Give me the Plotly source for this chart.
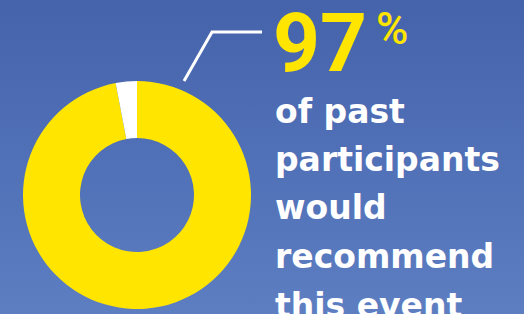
import plotly.graph_objects as go

W, H = 524, 314

slice_labels = ["Would recommend", "Would not"]
slice_values = [97, 3]
slice_colors = ["#FFE500", "#FFFFFF"]

headline = "97"
headline_suffix = "%"
text_lines = ["of past", "participants", "would", "recommend", "this event"]

fig = go.Figure()

# background gradient
fig.add_trace(go.Scatter(
    x=[0, 1, 1, 0, 0], y=[0, 0, 1, 1, 0], mode="lines", fill="toself",
    line=dict(width=0), hoverinfo="skip", showlegend=False,
    fillgradient=dict(type="vertical",
                      colorscale=[[0, "#5E7EC2"], [0.5, "#5070B7"], [1, "#4563AA"]]),
    xaxis="x", yaxis="y",
))

cx, cy, r = 137, 195, 114
fig.add_trace(go.Pie(
    labels=slice_labels, values=slice_values, hole=0.5, sort=False,
    direction="clockwise", rotation=0,
    marker=dict(colors=slice_colors, line=dict(width=0)),
    textinfo="none", hoverinfo="label+percent", showlegend=False,
    domain=dict(x=[(cx - r) / W, (cx + r) / W], y=[(H - cy - r) / H, (H - cy + r) / H]),
))

# leader line
fig.add_shape(type="path", xref="paper", yref="paper",
              path=f"M {184/W} {1-81/H} L {212/W} {1-32/H} L {262/W} {1-32/H}",
              line=dict(color="white", width=3))

fig.add_annotation(x=271 / W, y=1 - 43 / H, xref="paper", yref="paper",
                   xanchor="left", yanchor="middle", showarrow=False,
                   text=headline,
                   font=dict(family="Roboto", size=82, color="#FFE500", weight="bold"))
fig.add_annotation(x=374 / W, y=1 - 29 / H, xref="paper", yref="paper",
                   xanchor="left", yanchor="middle", showarrow=False,
                   text=headline_suffix,
                   font=dict(family="Roboto", size=44, color="#FFE500", weight=500))

line_y = [111, 159, 207, 256, 305]
for t, yy in zip(text_lines, line_y):
    fig.add_annotation(x=273 / W, y=1 - yy / H, xref="paper", yref="paper",
                       xanchor="left", yanchor="middle", showarrow=False,
                       text=t,
                       font=dict(family="DejaVu Sans", size=33, color="white", weight="bold"))

fig.update_layout(
    width=W, height=H, margin=dict(l=0, r=0, t=0, b=0),
    paper_bgcolor="#4D6BB3", plot_bgcolor="rgba(0,0,0,0)",
    xaxis=dict(range=[0, 1], visible=False, fixedrange=True),
    yaxis=dict(range=[0, 1], visible=False, fixedrange=True),
    showlegend=False,
)

fig.write_html("out.html", config=dict(displayModeBar=False),
               post_script="document.body.style.margin='0';document.body.style.overflow='hidden';")
